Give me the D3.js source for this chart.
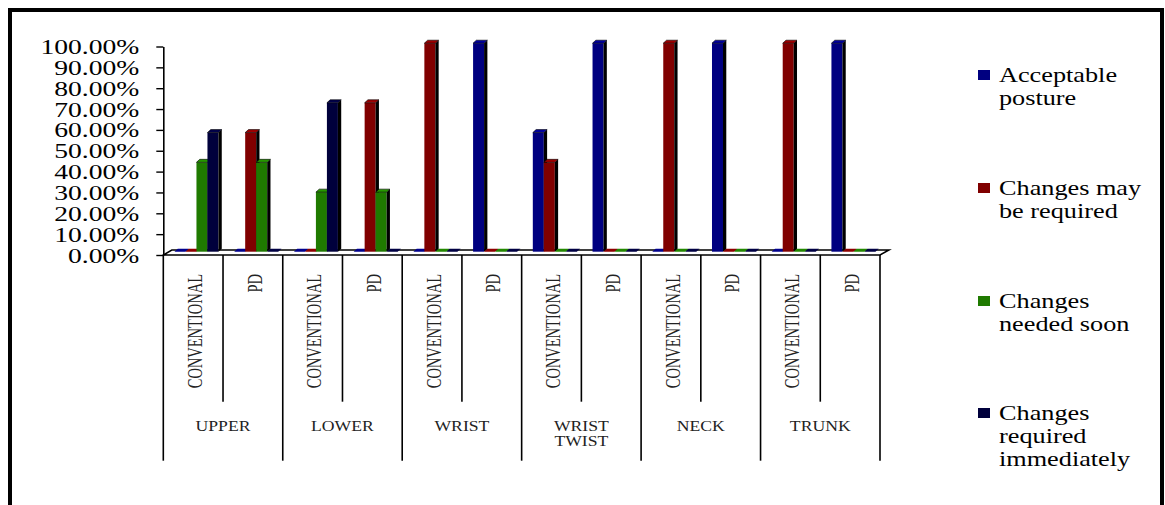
<!DOCTYPE html>
<html>
<head>
<meta charset="utf-8">
<script src="https://cdn.jsdelivr.net/npm/d3@7"></script>
<style>
  html, body { margin: 0; padding: 0; background: #fff; }
  svg { display: block; }
  text { font-family: "Liberation Serif", "Times New Roman", serif; }
</style>
</head>
<body>
<svg id="chart" width="1165" height="505"></svg>
<script>
// ---- data ----
const groups = ["UPPER", "LOWER", "WRIST", "WRIST TWIST", "NECK", "TRUNK"];
const methods = ["CONVENTIONAL", "PD"];
const seriesNames = ["Acceptable posture", "Changes may be required", "Changes needed soon", "Changes required immediately"];
const seriesColors = ["#000080", "#800000", "#1f7a00", "#00003c"];
// values per category (UPPER-CONV, UPPER-PD, LOWER-CONV, LOWER-PD, ...)
const acceptable      = [0, 0,      0, 0,      0, 1,   0.5714, 1,  0, 1,  0, 1];
const mayBeRequired   = [0, 0.5714, 0, 0.7143, 1, 0,   0.4286, 0,  1, 0,  1, 0];
const neededSoon      = [0.4286, 0.4286, 0.2857, 0.2857, 0, 0, 0, 0, 0, 0, 0, 0];
const reqImmediately  = [0.5714, 0, 0.7143, 0, 0, 0, 0, 0, 0, 0, 0, 0];
const yTicks = [0, 0.1, 0.2, 0.3, 0.4, 0.5, 0.6, 0.7, 0.8, 0.9, 1.0];
const legendLines = [["Acceptable", "posture"], ["Changes may", "be required"], ["Changes", "needed soon"], ["Changes", "required", "immediately"]];

const seriesValues = [acceptable, mayBeRequired, neededSoon, reqImmediately];
const categories = [];
groups.forEach(g => methods.forEach(m => categories.push({ group: g, method: m })));

const svg = d3.select("#chart");

// outer border
svg.append("rect").attr("x", 10).attr("y", 10).attr("width", 1152).attr("height", 540)
  .attr("fill", "none").attr("stroke", "#000").attr("stroke-width", 4);

const x0 = 163.3, x1 = 880;
const x = d3.scaleBand().domain(d3.range(categories.length)).range([x0, x1]).padding(0);
const y = d3.scaleLinear().domain([0, 1]).range([255, 46.5]);

// depth for pseudo 3D
const fdx = 9, fdy = -5;     // floor depth
const bdx = 3.3, bdy = -3;   // bar depth
const barShiftY = -3.3;
const slotW = 11;
const clusterOffset = (x.bandwidth() - slotW * 4) / 2 + 3.3;

// floor
const fl = [[x0, y(0)], [x1, y(0)], [x1 + fdx, y(0) + fdy], [x0 + fdx - 0.5, y(0) + fdy]];
svg.append("polygon").attr("points", fl.map(p => p.join(",")).join(" "))
  .attr("fill", "#fff").attr("stroke", "#000").attr("stroke-width", 1.5);

// bars
const barsG = svg.append("g");
categories.forEach((c, ci) => {
  seriesValues.forEach((vals, si) => {
    const v = vals[ci];
    const bx = x(ci) + clusterOffset + si * slotW;
    const base = y(0) + barShiftY;
    const top = y(v) + barShiftY;
    const w = slotW;
    const col = seriesColors[si];
    const g = barsG.append("g");
    if (v > 0) {
      g.append("rect").attr("x", bx).attr("y", top).attr("width", w).attr("height", base - top)
        .attr("fill", col);
      g.append("polygon").attr("points", [[bx + w, top], [bx + w + bdx, top + bdy], [bx + w + bdx, base + bdy], [bx + w, base]].map(p => p.join(",")).join(" "))
        .attr("fill", "#000");
    }
    g.append("polygon").attr("points", [[bx, top], [bx + w, top], [bx + w + bdx, top + bdy], [bx + bdx, top + bdy]].map(p => p.join(",")).join(" "))
      .attr("fill", d3.color(col).brighter(v > 0 ? 0.6 : 0.3)).attr("stroke", v > 0 ? "#000" : "none").attr("stroke-width", 0.6);
  });
});

// y axis
const yAxis = d3.axisLeft(y).tickValues(yTicks).tickFormat(d3.format(".2%")).tickSize(7).tickSizeOuter(0);
const ag = svg.append("g").attr("transform", `translate(${x0},0)`).call(yAxis);
ag.select(".domain").attr("stroke", "#000").attr("stroke-width", 1.6);
ag.selectAll(".tick line").attr("stroke", "#000").attr("stroke-width", 1.4);
ag.selectAll(".tick text")
  .attr("x", 0).attr("dy", "0.35em")
  .attr("text-anchor", "end")
  .attr("transform", "translate(-24,0) scale(1.38,1)")
  .attr("font-family", "Liberation Serif, serif")
  .attr("font-size", 20).attr("fill", "#000");

// category separators
for (let i = 0; i <= categories.length; i++) {
  const sx = i < categories.length ? x(i) : x1;
  const long = i % 2 === 0;
  svg.append("line").attr("x1", sx).attr("x2", sx).attr("y1", y(0)).attr("y2", long ? 460.7 : 401.7)
    .attr("stroke", "#000").attr("stroke-width", 1.6);
}

// method labels (rotated)
categories.forEach((c, ci) => {
  const cx = x(ci) + x.bandwidth() / 2 + 1.5;
  svg.append("text")
    .attr("transform", `translate(${cx},274) scale(1.4,1) rotate(-90)`)
    .attr("text-anchor", "end").attr("dy", "0.35em")
    .attr("font-size", 14.5).attr("fill", "#222")
    .text(c.method);
});

// group labels
groups.forEach((g, gi) => {
  const gx = x(gi * 2) + x.bandwidth();
  const words = g.split(" ");
  const t = svg.append("text")
    .attr("transform", `translate(${gx},431) scale(1.22,1)`)
    .attr("text-anchor", "middle").attr("font-size", 14.5).attr("fill", "#222");
  words.forEach((w, wi) => {
    t.append("tspan").attr("x", 0).attr("y", wi * 15).text(w);
  });
});

// legend
const legTop = [82, 195, 308, 420];
seriesNames.forEach((s, si) => {
  const ly = legTop[si];
  svg.append("rect").attr("x", 978).attr("y", ly - 12).attr("width", 12).attr("height", 10)
    .attr("fill", seriesColors[si]);
  const t = svg.append("text")
    .attr("transform", `translate(999,${ly}) scale(1.25,1)`)
    .attr("font-size", 21).attr("fill", "#000");
  legendLines[si].forEach((ln, li) => {
    t.append("tspan").attr("x", 0).attr("y", li * 23).text(ln);
  });
});
</script>
</body>
</html>
